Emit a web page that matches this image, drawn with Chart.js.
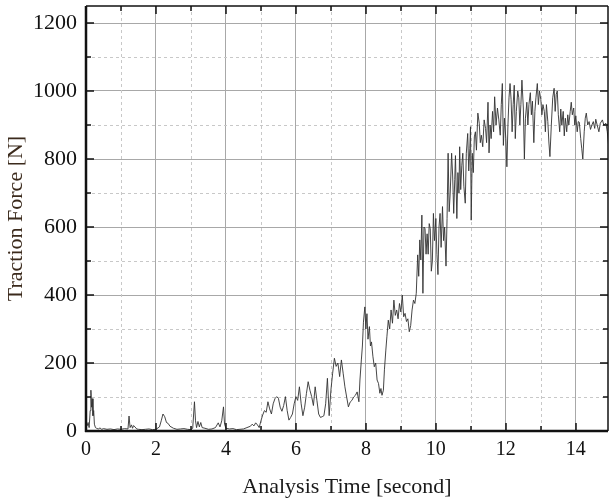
<!DOCTYPE html>
<html>
<head>
<meta charset="utf-8">
<script src="https://cdn.jsdelivr.net/npm/chart.js@4/dist/chart.umd.min.js"></script>
<style>
html,body{margin:0;padding:0;background:#fff;}
#wrap{width:610px;height:500px;position:relative;}
</style>
</head>
<body>
<div id="wrap"><canvas id="c" width="610" height="500"></canvas></div>
<script>
const xTicks = [0, 2, 4, 6, 8, 10, 12, 14];
const xMinorTicks = [1, 3, 5, 7, 9, 11, 13];
const yTicks = [0, 200, 400, 600, 800, 1000, 1200];
const yMinorTicks = [100, 300, 500, 700, 900, 1100];

const timeSec = [
0.00,0.03,0.06,0.09,0.12,0.14,0.16,0.18,0.20,0.22,0.24,0.27,0.30,0.35,0.40,0.45,0.50,0.60,0.70,0.80,0.90,1.00,1.10,1.20,1.23,1.26,1.30,1.33,1.36,1.40,1.45,1.50,1.60,1.70,1.80,1.90,2.00,2.10,2.15,2.20,2.25,2.30,2.35,2.40,2.50,2.60,2.70,2.80,2.90,3.00,3.05,3.10,3.13,3.16,3.20,3.24,3.28,3.32,3.40,3.50,3.60,3.70,3.78,3.83,3.88,3.93,3.96,4.00,4.10,4.20,4.30,4.40,4.50,4.60,4.70,4.75,4.80,4.85,4.90,4.95,5.00,
5.05,5.10,5.15,5.20,5.25,5.30,5.35,5.40,5.45,5.50,5.55,5.60,5.65,5.70,5.75,5.80,5.85,5.90,5.95,6.00,6.05,6.10,6.15,6.20,6.25,6.30,6.35,6.40,6.45,6.50,6.55,6.60,6.65,6.70,6.75,6.80,6.85,6.90,6.95,7.00,7.05,7.10,7.15,7.20,7.25,7.30,7.35,7.40,7.45,
7.50,7.55,7.60,7.65,7.70,7.75,7.80,7.83,7.87,7.90,7.93,7.97,8.00,8.03,8.06,8.10,8.13,8.16,8.20,8.24,8.28,8.32,8.36,8.40,8.43,8.46,8.50,8.53,8.57,8.60,8.64,8.68,8.72,8.76,8.80,8.84,8.88,8.92,8.96,9.00,9.04,9.08,9.12,9.16,9.20,9.24,9.28,9.32,9.36,9.40,9.44,9.48,9.51,9.54,
9.57,9.60,9.63,9.66,9.69,9.72,9.75,9.78,9.81,9.84,9.87,9.90,9.93,9.96,10.00,10.03,10.06,10.09,10.12,10.15,10.19,10.22,10.25,10.29,10.32,10.35,10.38,10.41,10.45,10.48,10.51,10.54,10.56,10.60,10.63,10.66,10.68,10.71,10.74,10.77,10.80,10.84,10.87,10.91,10.94,10.97,10.99,11.01,11.04,11.07,11.10,11.13,11.16,11.20,11.24,11.27,11.30,11.34,11.38,11.42,11.45,11.49,11.52,11.55,11.58,11.62,11.65,11.68,11.72,11.76,11.80,11.84,11.87,11.90,11.93,11.96,12.00,
12.03,12.06,12.09,12.12,12.15,12.18,12.21,12.24,12.27,12.30,12.34,12.37,12.40,12.43,12.46,12.50,12.53,12.56,12.60,12.63,12.66,12.70,12.73,12.76,12.80,12.83,12.86,12.90,12.93,12.96,13.00,13.03,13.06,13.10,13.13,13.16,13.20,13.23,13.26,13.30,13.34,13.38,13.41,13.44,13.47,13.50,13.54,13.57,13.60,13.64,13.67,13.70,13.74,13.77,13.80,13.84,13.87,13.90,13.94,13.97,14.00,14.04,14.07,14.10,14.14,14.17,14.20,14.24,14.27,14.30,14.34,14.38,14.42,14.46,14.50,14.54,14.57,14.61,14.66,14.70,14.76,14.80,14.86,14.90,14.95
];
const tractionForce = [
20,15,25,10,60,120,70,95,45,60,20,10,8,6,9,5,7,5,6,4,6,5,7,6,44,10,18,8,16,12,6,5,4,5,6,4,5,12,30,50,42,25,22,14,8,5,6,7,5,4,8,86,30,10,28,12,25,10,8,5,6,10,24,12,30,71,20,8,6,7,4,5,6,10,14,20,15,24,18,10,30,
47,60,55,86,65,50,80,95,101,96,70,58,75,101,60,32,40,50,80,101,90,130,80,45,70,110,145,120,101,75,130,90,50,40,42,45,80,155,45,120,170,214,190,200,160,209,170,130,100,
71,85,90,100,105,115,86,150,209,250,320,365,300,345,270,307,250,262,220,189,200,150,140,111,125,105,120,180,238,277,326,300,356,317,385,340,356,330,375,350,400,336,346,322,330,292,310,356,385,375,405,518,455,562,
503,635,405,600,595,520,580,520,610,595,470,500,640,560,625,520,460,600,640,540,660,560,600,485,625,817,645,700,817,750,640,740,810,625,760,700,836,710,780,817,720,670,817,875,765,830,895,620,817,760,865,880,826,935,905,848,870,836,915,890,848,967,818,900,860,940,880,983,900,950,915,870,960,1022,840,920,860,
777,900,980,1022,975,880,960,1017,860,940,1000,980,900,960,1032,950,800,920,967,900,960,995,930,970,848,940,980,1022,960,1000,975,930,960,940,880,960,910,850,807,900,980,1008,940,990,1000,930,880,947,900,940,868,920,880,930,900,940,967,930,950,900,927,880,910,908,860,830,800,880,920,935,900,910,887,900,910,890,917,900,880,905,915,900,905,880,826
];

const points = timeSec.map((t, i) => ({ x: t, y: tractionForce[i] }));

const framePlugin = {
  id: 'frame',
  beforeDatasetsDraw(chart) {
    const { ctx, chartArea: a, scales: { x, y } } = chart;
    ctx.save();
    ctx.strokeStyle = '#c8c8c8';
    ctx.lineWidth = 1;
    ctx.setLineDash([3, 3]);
    xMinorTicks.forEach(v => {
      const px = Math.round(x.getPixelForValue(v)) + 0.5;
      ctx.beginPath(); ctx.moveTo(px, a.top); ctx.lineTo(px, a.bottom); ctx.stroke();
    });
    yMinorTicks.forEach(v => {
      const py = Math.round(y.getPixelForValue(v)) + 0.5;
      ctx.beginPath(); ctx.moveTo(a.left, py); ctx.lineTo(a.right, py); ctx.stroke();
    });
    ctx.restore();
  },
  afterDatasetsDraw(chart) {
    const { ctx, chartArea: a, scales: { x, y } } = chart;
    ctx.save();
    ctx.strokeStyle = '#111';
    ctx.setLineDash([]);
    ctx.lineWidth = 1.5;
    const tick = (x1, y1, x2, y2) => { ctx.beginPath(); ctx.moveTo(x1, y1); ctx.lineTo(x2, y2); ctx.stroke(); };
    xTicks.forEach(v => {
      const px = Math.round(x.getPixelForValue(v));
      tick(px, a.bottom, px, a.bottom - 8);
      tick(px, a.top, px, a.top + 8);
    });
    xMinorTicks.forEach(v => {
      const px = Math.round(x.getPixelForValue(v));
      tick(px, a.bottom, px, a.bottom - 5);
      tick(px, a.top, px, a.top + 5);
    });
    yTicks.forEach(v => {
      const py = Math.round(y.getPixelForValue(v));
      tick(a.left, py, a.left + 8, py);
      tick(a.right, py, a.right - 8, py);
    });
    yMinorTicks.forEach(v => {
      const py = Math.round(y.getPixelForValue(v));
      tick(a.left, py, a.left + 5, py);
      tick(a.right, py, a.right - 5, py);
    });
    ctx.lineWidth = 1.5;
    tick(a.left, a.top, a.right, a.top);
    tick(a.right, a.top, a.right, a.bottom);
    ctx.lineWidth = 2.5;
    tick(a.left, a.top, a.left, a.bottom + 1);
    tick(a.left - 1, a.bottom, a.right, a.bottom);
    ctx.restore();
  }
};

new Chart(document.getElementById('c'), {
  type: 'line',
  data: {
    datasets: [{
      data: points,
      borderColor: 'rgba(50,50,50,0.9)',
      borderWidth: 1,
      pointRadius: 0,
      tension: 0,
      fill: false
    }]
  },
  options: {
    responsive: false,
    animation: false,
    devicePixelRatio: 1,
    layout: { padding: { top: 6, right: 2, left: 0, bottom: 0 } },
    plugins: { legend: { display: false }, tooltip: { enabled: false } },
    scales: {
      x: {
        type: 'linear',
        min: 0,
        max: 14.92,
        afterBuildTicks: s => { s.ticks = xTicks.map(v => ({ value: v })); },
        afterFit: s => { s.height = 69; s.paddingLeft = 0; s.paddingRight = 0; },
        grid: { color: '#a8a8a8', lineWidth: 1, drawTicks: false },
        border: { display: false },
        ticks: {
          padding: 7,
          color: '#111',
          maxRotation: 0,
          font: { family: 'Liberation Serif', size: 20 },
          callback: v => String(v)
        },
        title: {
          display: true,
          text: 'Analysis Time [second]',
          color: '#1a1a1a',
          font: { family: 'Liberation Serif', size: 22 },
          padding: { top: 0, bottom: 0 }
        }
      },
      y: {
        type: 'linear',
        min: 0,
        max: 1250,
        afterBuildTicks: s => { s.ticks = yTicks.map(v => ({ value: v })); },
        afterFit: s => { s.width = 86; s.paddingTop = 0; s.paddingBottom = 0; },
        grid: { color: '#a8a8a8', lineWidth: 1, drawTicks: false },
        border: { display: false },
        ticks: {
          padding: 9,
          color: '#111',
          font: { family: 'Liberation Serif', size: 22 },
          callback: v => String(v)
        },
        title: {
          display: true,
          text: 'Traction Force [N]',
          color: '#3b2a1c',
          font: { family: 'Liberation Serif', size: 22 },
          padding: { top: 3, bottom: 0 }
        }
      }
    }
  },
  plugins: [framePlugin]
});
</script>
</body>
</html>
